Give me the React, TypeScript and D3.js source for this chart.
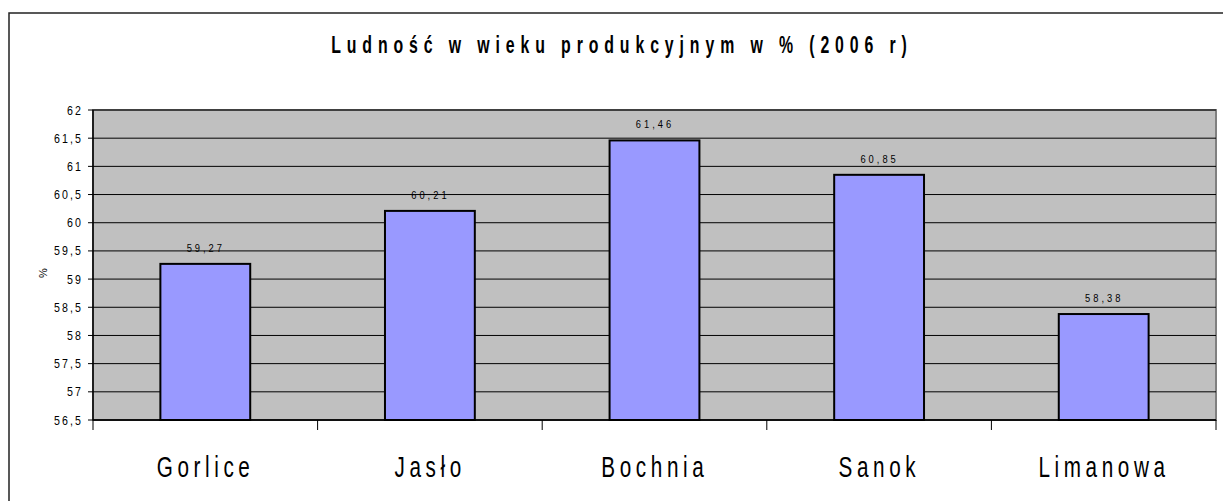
import React from "react";
import * as d3 from "d3";

const categories = ["Gorlice", "Jasło", "Bochnia", "Sanok", "Limanowa"];
const values = [59.27, 60.21, 61.46, 60.85, 58.38];
const valueLabels = ["59,27", "60,21", "61,46", "60,85", "58,38"];
const yTicks = [56.5, 57, 57.5, 58, 58.5, 59, 59.5, 60, 60.5, 61, 61.5, 62];
const title = "Ludność w wieku produkcyjnym w % (2006 r)";
const yLabel = "%";

const W = 1223;
const H = 501;
const plot = { left: 93, top: 110, right: 1216, bottom: 420 };
const FONT = "'Liberation Sans', Arial, sans-serif";

type CTProps = {
  x: number;
  y: number;
  text: string;
  size: number;
  sx: number;
  ls: number;
  anchor?: "start" | "middle" | "end";
  bold?: boolean;
  rotate?: number;
};

function CText({ x, y, text, size, sx, ls, anchor = "start", bold, rotate = 0 }: CTProps) {
  // ls is the visible letter spacing (after horizontal scaling)
  const comp = anchor === "middle" ? ls / 2 : anchor === "end" ? ls : 0;
  return (
    <g transform={`translate(${x},${y}) rotate(${rotate}) scale(${sx},1)`}>
      <text
        x={comp / sx}
        y={0}
        textAnchor={anchor}
        fontFamily={FONT}
        fontSize={size}
        fontWeight={bold ? "bold" : "normal"}
        letterSpacing={ls / sx}
        fill="#000"
      >
        {text}
      </text>
    </g>
  );
}

export default function App() {
  const x = d3
    .scaleBand<string>()
    .domain(categories)
    .range([plot.left, plot.right])
    .paddingInner(0.6)
    .paddingOuter(0.3);
  const xb = d3.scaleBand<string>().domain(categories).range([plot.left, plot.right]);
  const y = d3.scaleLinear().domain([56.5, 62]).range([plot.bottom, plot.top]);
  const fmt = (v: number) => String(v).replace(".", ",");
  const boundaries = [...categories.map((c) => xb(c) as number), plot.right];

  return (
    <svg width={W} height={H} style={{ position: "absolute", left: 0, top: 0, background: "#fff" }}>
      <rect x={9} y={13} width={1240} height={520} fill="#fff" stroke="#222" strokeWidth={1.5} />
      <CText x={619} y={52.5} text={title} size={24} sx={0.66} ls={5.9} anchor="middle" bold />
      <rect
        x={plot.left}
        y={plot.top}
        width={plot.right - plot.left}
        height={plot.bottom - plot.top}
        fill="#C0C0C0"
        stroke="#808080"
        strokeWidth={2}
      />
      {yTicks.map((t) => (
        <g key={t}>
          <line x1={plot.left} x2={plot.right} y1={y(t)} y2={y(t)} stroke="#000" strokeWidth={1} />
          <line x1={plot.left - 5} x2={plot.left} y1={y(t)} y2={y(t)} stroke="#000" strokeWidth={1} />
          <CText x={81} y={y(t) + 4.5} text={fmt(t)} size={12.5} sx={0.85} ls={2.1} anchor="end" />
        </g>
      ))}
      <line x1={plot.left} x2={plot.left} y1={plot.top} y2={plot.bottom} stroke="#000" strokeWidth={1.5} />
      <line x1={plot.left} x2={plot.right} y1={plot.bottom} y2={plot.bottom} stroke="#000" strokeWidth={1.5} />
      {boundaries.map((b, i) => (
        <line key={i} x1={b} x2={b} y1={plot.bottom} y2={plot.bottom + 10} stroke="#000" strokeWidth={1} />
      ))}
      {categories.map((c, i) => (
        <g key={c}>
          <rect
            x={x(c)}
            y={y(values[i])}
            width={x.bandwidth()}
            height={plot.bottom - y(values[i])}
            fill="#9999FF"
            stroke="#000"
            strokeWidth={2}
          />
          <CText
            x={(x(c) as number) + x.bandwidth() / 2 - 1}
            y={y(values[i]) - 12}
            text={valueLabels[i]}
            size={11}
            sx={0.85}
            ls={3}
            anchor="middle"
          />
          <CText
            x={(xb(c) as number) + xb.bandwidth() / 2 - 2}
            y={477}
            text={c}
            size={30}
            sx={0.69}
            ls={4.6}
            anchor="middle"
          />
        </g>
      ))}
      <CText x={47} y={273} text={yLabel} size={11} sx={1} ls={0} anchor="middle" rotate={-90} />
    </svg>
  );
}
